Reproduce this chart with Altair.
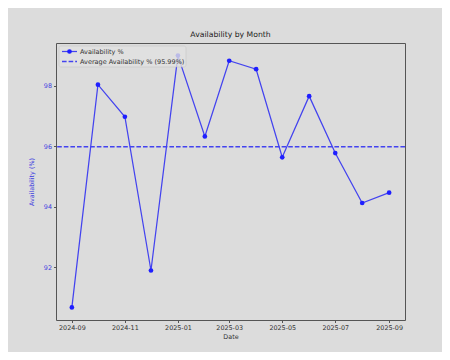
import altair as alt
import pandas as pd

# Data
months = ["2024-09-01", "2024-10-01", "2024-11-01", "2024-12-01", "2025-01-01",
          "2025-02-01", "2025-03-01", "2025-04-01", "2025-05-01", "2025-06-01",
          "2025-07-01", "2025-08-01", "2025-09-01"]
availability = [90.68, 98.04, 96.98, 91.90, 99.00, 96.33, 98.83, 98.55,
                95.64, 97.66, 95.78, 94.13, 94.47]
average_value = 95.99
x_tick_dates = ["2024-09-01", "2024-11-01", "2025-01-01", "2025-03-01",
                "2025-05-01", "2025-07-01", "2025-09-01"]
y_ticks = [92, 94, 96, 98]
legend_labels = ["Availability %", "Average Availability % (95.99%)"]


def ms(s):
    return int(pd.Timestamp(s, tz="UTC").value // 10**6)


df = pd.DataFrame({"date": [ms(m) for m in months], "avail": availability})
avg_df = pd.DataFrame({"avg": [average_value]})

# matplotlib-like 5% margins
t0, t1 = ms(months[0]), ms(months[-1])
tpad = (t1 - t0) * 0.05
vmin, vmax = min(availability), max(availability)
vpad = (vmax - vmin) * 0.05

BG = "#dcdcdc"
BLUE_LINE = "#4343ef"
BLUE_PT = "#1f1fff"
BLUE_TXT = "#3c3ce0"
FONT = "DejaVu Sans"

x_enc = alt.X(
    "date:Q",
    scale=alt.Scale(domain=[t0 - tpad, t1 + tpad], nice=False, zero=False),
    axis=alt.Axis(
        title="Date",
        values=[ms(d) for d in x_tick_dates],
        labelExpr="utcFormat(datum.value, '%Y-%m')",
        grid=False,
        domain=False,
        tickColor="#555555",
        tickSize=2.5,
        labelFontSize=6.4,
        labelColor="#333333",
        labelPadding=2,
        titleFontSize=6.4,
        titleFontWeight="normal",
        titleColor="#333333",
        titlePadding=3,
        labelFont=FONT,
        titleFont=FONT,
    ),
)
y_scale = alt.Scale(domain=[vmin - vpad, vmax + vpad], nice=False, zero=False)
y_enc = alt.Y(
    "avail:Q",
    scale=y_scale,
    axis=alt.Axis(
        title="Availability (%)",
        values=y_ticks,
        grid=False,
        domain=False,
        tickColor="#555555",
        tickSize=2.5,
        labelFontSize=6.4,
        labelColor=BLUE_TXT,
        labelPadding=2,
        titleFontSize=6.4,
        titleFontWeight="normal",
        titleColor=BLUE_TXT,
        titlePadding=9,
        labelFont=FONT,
        titleFont=FONT,
    ),
)

base = alt.Chart(df)
line = base.mark_line(color=BLUE_LINE, strokeWidth=1.25).encode(x=x_enc, y=y_enc)
pts = base.mark_point(filled=True, color=BLUE_PT, size=22, opacity=1).encode(
    x="date:Q", y="avail:Q")

avg_rule = alt.Chart(avg_df).mark_rule(
    color=BLUE_LINE, strokeWidth=1.4, strokeDash=[4.6, 2]
).encode(y=alt.Y("avg:Q", scale=y_scale))

# Manual legend (top-left, inside plot)
one = pd.DataFrame({"a": [0]})
leg_box = alt.Chart(one).mark_rect(
    fill="#e2e2e2", opacity=0.8, stroke="#c4c4c4", strokeWidth=0.6, cornerRadius=2
).encode(x=alt.value(3), x2=alt.value(130), y=alt.value(3), y2=alt.value(24))
leg_line1 = alt.Chart(one).mark_rule(color=BLUE_LINE, strokeWidth=1.25).encode(
    x=alt.value(6), x2=alt.value(21), y=alt.value(8.5))
leg_pt1 = alt.Chart(one).mark_point(filled=True, color=BLUE_PT, size=22, opacity=1).encode(
    x=alt.value(13.5), y=alt.value(8.5))
leg_line2 = alt.Chart(one).mark_rule(color=BLUE_LINE, strokeWidth=1.4, strokeDash=[4.6, 2]).encode(
    x=alt.value(6), x2=alt.value(21), y=alt.value(18.5))
leg_txt1 = alt.Chart(pd.DataFrame({"t": [legend_labels[0]]})).mark_text(
    align="left", baseline="middle", fontSize=6.5, font=FONT, color="#333333"
).encode(x=alt.value(24), y=alt.value(8.5), text="t:N")
leg_txt2 = alt.Chart(pd.DataFrame({"t": [legend_labels[1]]})).mark_text(
    align="left", baseline="middle", fontSize=6.5, font=FONT, color="#333333"
).encode(x=alt.value(24), y=alt.value(18.5), text="t:N")

chart = alt.layer(
    line, pts, avg_rule, leg_box, leg_line1, leg_pt1, leg_line2, leg_txt1, leg_txt2
).properties(
    width=349,
    height=277,
    title=alt.TitleParams(
        "Availability by Month", fontSize=7.7, fontWeight="normal",
        color="#222222", font=FONT, offset=4, anchor="middle"
    ),
    background=BG,
    padding={"left": 48, "top": 35, "right": 37, "bottom": 32},
    autosize=alt.AutoSizeParams(type="none"),
).configure_view(
    fill=BG, stroke="#555555", strokeWidth=1
)

chart.save("out.html", embed_options={"renderer": "svg", "actions": False})
